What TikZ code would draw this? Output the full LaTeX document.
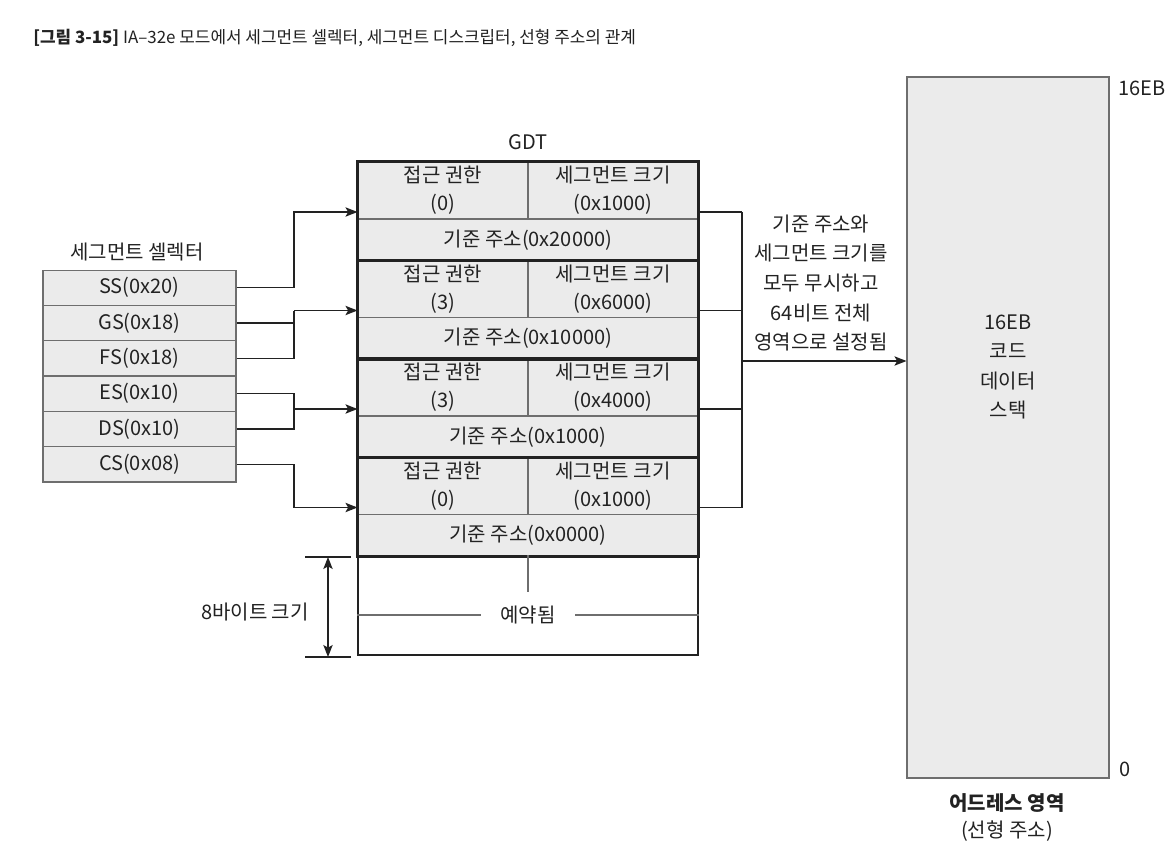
\documentclass[tikz,border=0pt]{standalone}
\usepackage{fontspec}
\setmainfont{Noto Sans CJK KR}
\usetikzlibrary{arrows.meta,calc}
\definecolor{boxgray}{HTML}{EBEBEB}
\definecolor{linegray}{HTML}{6E6E6E}
\definecolor{ink}{HTML}{222222}
\begin{document}
\begin{tikzpicture}[x=0.75pt,y=-0.75pt,
  every node/.style={font=\fontsize{15}{21}\selectfont, text=ink},
  selcell/.style={draw=linegray, line width=0.8pt, fill=boxgray, inner sep=0, minimum width=144.75pt, minimum height=26.5pt},
  acc/.style={draw=linegray, line width=0.8pt, fill=boxgray, inner sep=0, minimum width=127.5pt, minimum height=42.75pt, align=center},
  basecell/.style={draw=linegray, line width=0.8pt, fill=boxgray, inner sep=0, minimum width=255pt, minimum height=31.125pt},
  thickbox/.style={draw=ink, line width=1.8pt},
  thin/.style={draw=linegray, line width=0.8pt},
  conn/.style={draw=ink, line width=1pt},
  arr/.style={conn, -{Stealth[length=9pt,width=7pt,inset=2pt]}},
  dimarr/.style={conn, {Stealth[length=9pt,width=7pt,inset=2pt]}-{Stealth[length=9pt,width=7pt,inset=2pt]}},
  ]
\fill[white] (0,0) rectangle (1176,866);
\useasboundingbox (0,0) rectangle (1176,866);

% title
\node[anchor=west, inner sep=0, font=\fontsize{12.7}{14}\selectfont] (title) at (33,38)
  {\textbf{[그림 3-15]} IA–32e 모드에서 세그먼트 셀렉터, 세그먼트 디스크립터, 선형 주소의 관계};

% selectors
\node (sellabel) at (137,252) {세그먼트 셀렉터};
\node[selcell] (ss) at (139.5,287.7) {SS(0x20)};
\node[selcell] (gs) at (139.5,323.0) {GS(0x18)};
\node[selcell] (fs) at (139.5,358.3) {FS(0x18)};
\node[selcell] (es) at (139.5,393.7) {ES(0x10)};
\node[selcell] (ds) at (139.5,429.0) {DS(0x10)};
\node[selcell] (cs) at (139.5,464.3) {CS(0x08)};

% GDT
\node (gdt) at (528,142) {GDT};
\node[acc] (p1) at (443,190.5) {접근 권한\\(0)};
\node[acc] (s1) at (613,190.5) {세그먼트 크기\\(0x1000)};
\node[basecell] (b1) at (528,239.75) {기준 주소(0x20000)};
\node[acc] (p2) at (443,289) {접근 권한\\(3)};
\node[acc] (s2) at (613,289) {세그먼트 크기\\(0x6000)};
\node[basecell] (b2) at (528,338.25) {기준 주소(0x10000)};
\node[acc] (p3) at (443,387.5) {접근 권한\\(3)};
\node[acc] (s3) at (613,387.5) {세그먼트 크기\\(0x4000)};
\node[basecell] (b3) at (528,436.75) {기준 주소(0x1000)};
\node[acc] (p4) at (443,486) {접근 권한\\(0)};
\node[acc] (s4) at (613,486) {세그먼트 크기\\(0x1000)};
\node[basecell] (b4) at (528,535.25) {기준 주소(0x0000)};
\draw[thickbox] (p1.north west) rectangle (b1.south east);
\draw[thickbox] (p2.north west) rectangle (b2.south east);
\draw[thickbox] (p3.north west) rectangle (b3.south east);
\draw[thickbox] (p4.north west) rectangle (b4.south east);

% reserved
\node[draw=ink, line width=1.8pt, inner sep=0, minimum width=255pt, minimum height=74.25pt] (rsv) at (528,605.5) {};
\node (rtxt) at (528,615) {예약됨};
\draw[thin] (rsv.north) -- ($(rsv.north)+(0,37)$);
\draw[thin] (rsv.west |- rtxt) -- ($(rtxt.west)+(-15,0)$);
\draw[thin] ($(rtxt.east)+(15,0)$) -- (rsv.east |- rtxt);

% size dimension
\coordinate (dt) at (305,557);
\coordinate (db) at (305,657);
\draw[conn] (dt) -- ++(46,0);
\draw[conn] (db) -- ++(46,0);
\draw[dimarr] ($(dt)+(23,0)$) -- ($(db)+(23,0)$);
\node (dlabel) at (255,612) {8바이트 크기};

% selector -> GDT connectors
\coordinate (j1) at (294,212);
\coordinate (j2) at (294,310.5);
\coordinate (j3) at (294,409);
\coordinate (j4) at (294,507.5);
\draw[arr] (ss.east) -| (j1) -- (j1 -| p1.west);
\draw[conn] (gs.east) -| (j2);
\draw[conn] (fs.east) -| (j2);
\draw[arr] (j2) -- (j2 -| p2.west);
\draw[conn] (es.east) -| (j3);
\draw[conn] (ds.east) -| (j3);
\draw[arr] (j3) -- (j3 -| p3.west);
\draw[arr] (cs.east) -| (j4) -- (j4 -| p4.west);

% address space
\node[draw=linegray, line width=0.8pt, fill=boxgray, inner sep=0, minimum width=151.5pt, minimum height=525.75pt] (addr) at (1008,427.5) {};
\node[align=center, font=\fontsize{15}{22}\selectfont] (atxt) at (1008,367) {16EB\\코드\\데이터\\스택};
\node[anchor=west, inner sep=0] (top) at (1118,88) {16EB};
\node[anchor=west, inner sep=0] (zero) at (1119,769) {0};
\node[font=\fontsize{15}{21}\bfseries] (alabel) at (1007,803) {어드레스 영역};
\node (alabel2) at (1007,831) {(선형 주소)};

% GDT -> address connectors
\coordinate (r1) at (742,212);
\coordinate (r2) at (742,310.5);
\coordinate (r3) at (742,409);
\coordinate (r4) at (742,507.5);
\coordinate (rm) at (742,361);
\draw[conn] (s1.east |- r1) -- (r1);
\draw[conn] (s2.east |- r2) -- (r2);
\draw[conn] (s3.east |- r3) -- (r3);
\draw[conn] (s4.east |- r4) -- (r4);
\draw[conn] (r1) -- (r4);
\draw[arr] (rm) -- (rm -| addr.west);
\node[align=center, font=\fontsize{15}{22.3}\selectfont] (note) at (821,283)
  {기준 주소와\\세그먼트 크기를\\모두 무시하고\\64비트 전체\\영역으로 설정됨};
\end{tikzpicture}
\end{document}
